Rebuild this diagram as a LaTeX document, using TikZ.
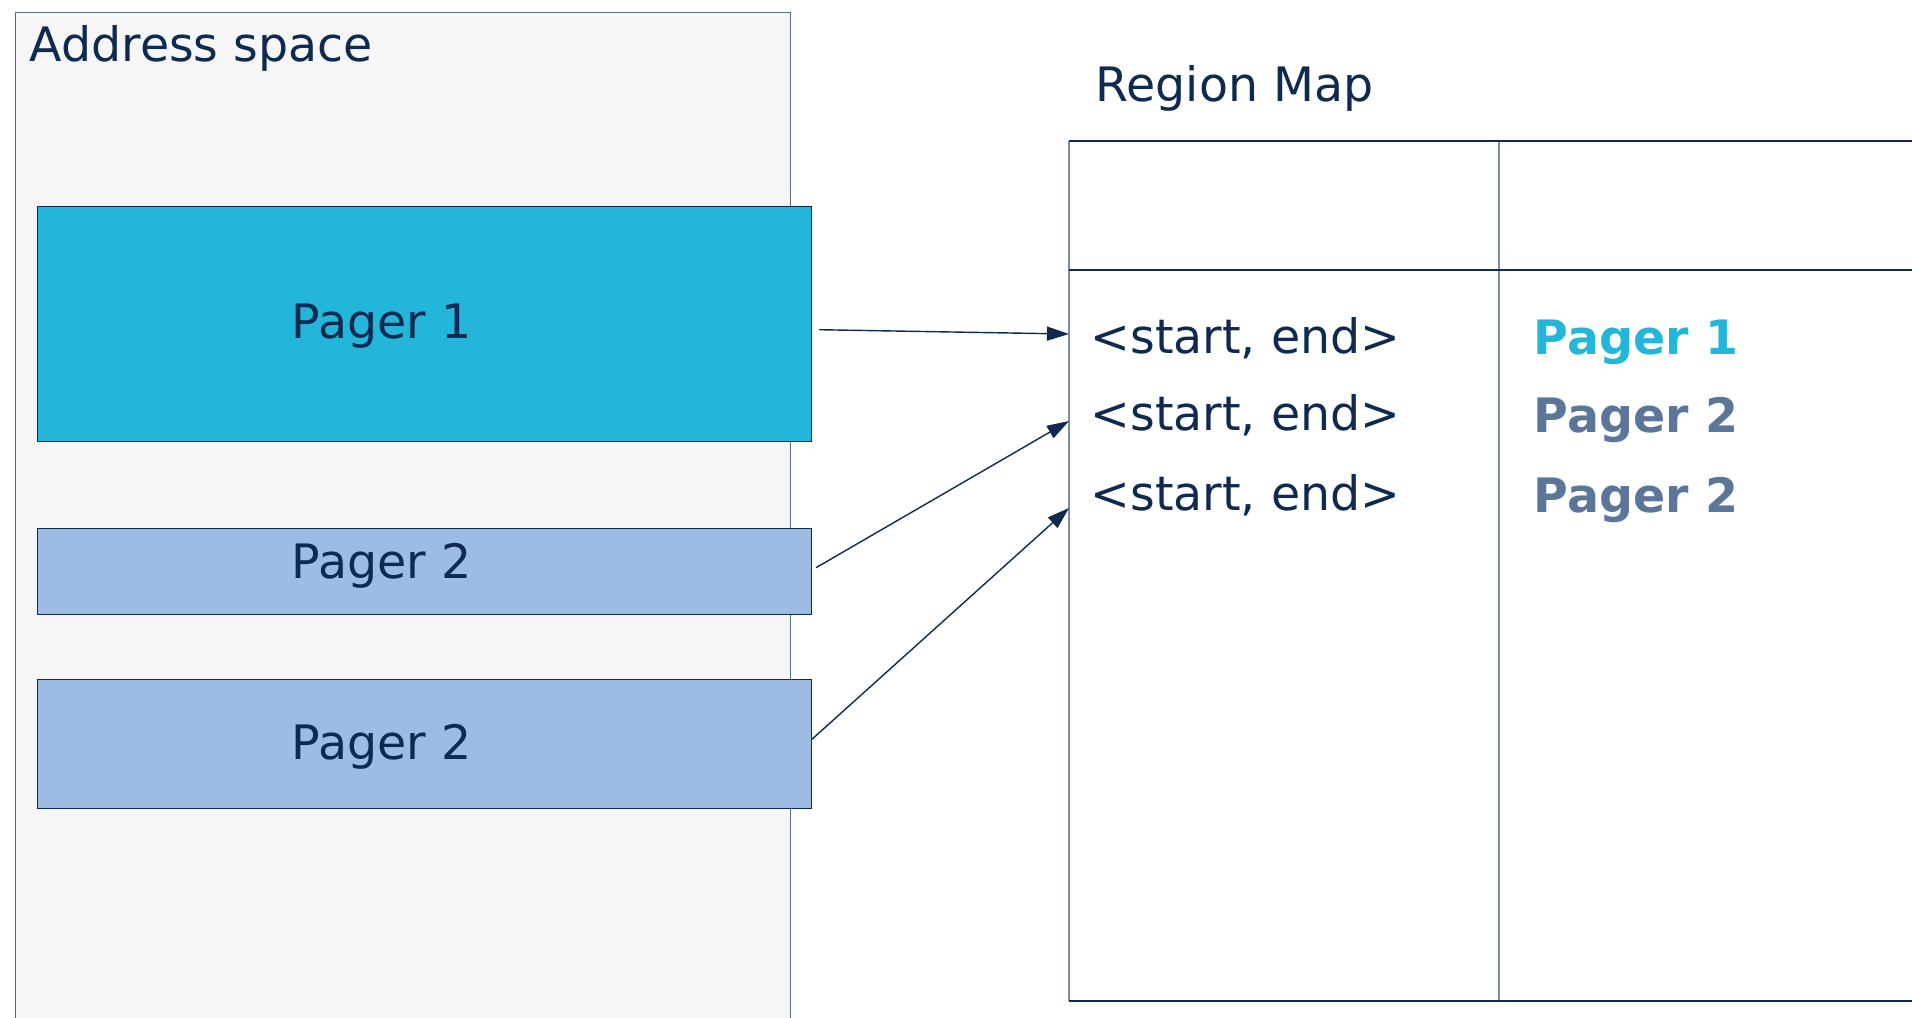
\documentclass[tikz,border=0pt]{standalone}
\usepackage{fontspec}
\setmainfont{DejaVu Sans}
\usetikzlibrary{arrows.meta}
\definecolor{navy}{HTML}{0E2A50}
\definecolor{pgcyan}{HTML}{24B5DB}
\definecolor{pgblue}{HTML}{9DBCE3}
\definecolor{pggray}{HTML}{5B7699}
\definecolor{bggray}{HTML}{F6F6F6}
\definecolor{gridgray}{HTML}{7D8CA5}

\begin{document}
\begin{tikzpicture}[x=0.1mm,y=-0.1mm,>={Triangle[length=2.2mm,width=1.4mm]},
      every node/.style={font=\fontsize{13.5}{16}\selectfont,text=navy,inner sep=0pt},
      pagerbox/.style={draw=navy,line width=0.4pt,anchor=north west,minimum width=77.4mm},
      lbl/.style={anchor=base west},
      entry/.style={anchor=base west,font=\fontsize{13.5}{16}\selectfont\bfseries},
      arr/.style={->,draw=navy,line width=0.4pt}
      ]
      \clip (0,0) rectangle (1912,1017);
      % address space
      \node[draw=navy!70,fill=bggray,anchor=north west,minimum width=77.54mm,minimum height=102mm] (as) at (14.6,12) {};
      \node[lbl] (astxt) at (29,61) {Address space};
      \node[pagerbox,fill=pgcyan,minimum height=23.5mm] (pg1) at (36.6,206) {};
      \node[pagerbox,fill=pgblue,minimum height=8.6mm] (pg2a) at (36.6,528) {};
      \node[pagerbox,fill=pgblue,minimum height=12.9mm] (pg2b) at (36.6,679) {};
      \node[lbl] (pg1txt) at (291,338) {Pager 1};
      \node[lbl] (pg2atxt) at (291,578) {Pager 2};
      \node[lbl] (pg2btxt) at (291,759) {Pager 2};
      % region map
      \node[lbl] (rmtxt) at (1095,101) {Region Map};
      \draw[gridgray,line width=0.4pt] (1069,141) -- (1069,1001) (1499,141) -- (1499,1001);
      \draw[navy,line width=0.4pt] (1069,141) -- (1930,141) (1069,270) -- (1930,270) (1069,1001) -- (1930,1001);
      \coordinate (in1) at (1069,334);
      \coordinate (in2) at (1069,421);
      \coordinate (in3) at (1069,508);
      \node[lbl] (r1) at (1090,353) {<start, end>};
      \node[lbl] (r2) at (1090,430) {<start, end>};
      \node[lbl] (r3) at (1090,510) {<start, end>};
      \node[entry,text=pgcyan] (e1) at (1533,354) {Pager 1};
      \node[entry,text=pggray] (e2) at (1533,432) {Pager 2};
      \node[entry,text=pggray] (e3) at (1533,512) {Pager 2};
      % pointers
      \draw[arr] ([xshift=0.7mm,yshift=-0.55mm]pg1.east) -- (in1);
      \draw[arr] ([xshift=0.4mm,yshift=0.4mm]pg2a.east) -- (in2);
      \draw[arr] ([yshift=0.5mm]pg2b.east) -- (in3);
    \end{tikzpicture}
\end{document}
